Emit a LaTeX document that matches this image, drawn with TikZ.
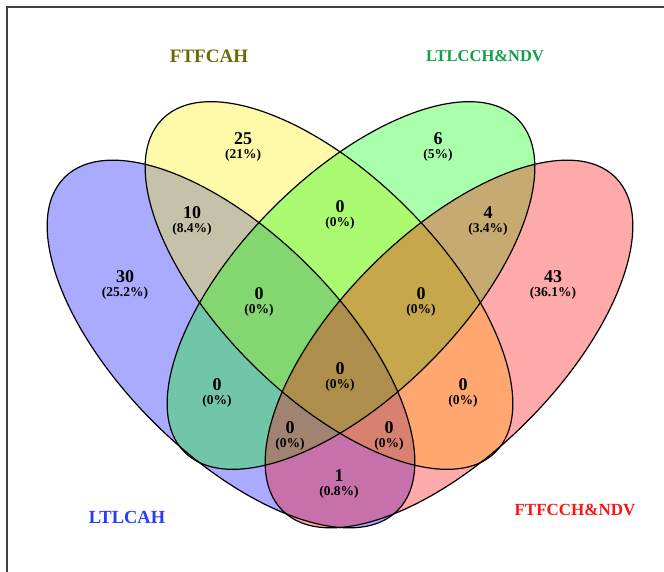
\documentclass[tikz,border=0pt]{standalone}
\usepackage{fontspec}
\setmainfont{Liberation Serif}
\definecolor{catY}{RGB}{108,106,8}
\definecolor{catG}{RGB}{16,160,70}
\definecolor{catB}{RGB}{40,60,255}
\definecolor{catR}{RGB}{250,20,20}
\newcommand{\numfont}{\fontsize{18}{18}\selectfont\bfseries}
\newcommand{\pctfont}{\fontsize{13.5}{13.5}\selectfont\bfseries}
\newcommand{\region}[5]{%
  \node[num] (#1-n) at (#2,#3) {#4};
  \node[pct] (#1-p) at (#2,#3+16) {(#5\%)};}

\begin{document}
\begin{tikzpicture}[x=1pt, y=-1pt]
  \tikzset{
    num/.style={inner sep=0pt, font=\numfont},
    pct/.style={inner sep=0pt, font=\pctfont},
    cat/.style={inner sep=0pt, font=\bfseries},
    setB/.style={rotate around={-45:(cB)}},
    setY/.style={rotate around={-45:(cY)}},
    setG/.style={rotate around={45:(cG)}},
    setR/.style={rotate around={45:(cR)}},
    tint/.style={fill opacity=0.333},
    rim/.style={line width=1.2pt}
  }
  \clip (0,0) rectangle (664,571);
  \fill[white] (0,0) rectangle (664,571);
  \draw[black!75, line width=1.5pt] (7,7) rectangle (700,600);
  \coordinate (cB) at (231,344);
  \coordinate (cY) at (329,285.5);
  \coordinate (cG) at (351,285.5);
  \coordinate (cR) at (449,344);
  % fills
  \fill[blue, tint, setB] (cB) ellipse [x radius=235.5pt, y radius=110pt];
  \fill[yellow, tint, setY] (cY) ellipse [x radius=235.5pt, y radius=110pt];
  \fill[green, tint, setG] (cG) ellipse [x radius=235.5pt, y radius=110pt];
  \fill[red, tint, setR] (cR) ellipse [x radius=235.5pt, y radius=110pt];
  % outlines
  \draw[rim, setB] (cB) ellipse [x radius=235.5pt, y radius=110pt];
  \draw[rim, setY] (cY) ellipse [x radius=235.5pt, y radius=110pt];
  \draw[rim, setG] (cG) ellipse [x radius=235.5pt, y radius=110pt];
  \draw[rim, setR] (cR) ellipse [x radius=235.5pt, y radius=110pt];
  % counts
  \region{B}{125}{277}{30}{25.2}
  \region{Y}{243}{139}{25}{21}
  \region{G}{438}{139}{6}{5}
  \region{R}{553}{277}{43}{36.1}
  \region{BY}{192}{213}{10}{8.4}
  \region{YG}{340}{207}{0}{0}
  \region{GR}{488}{213}{4}{3.4}
  \region{BYG}{259}{294}{0}{0}
  \region{YGR}{421}{294}{0}{0}
  \region{BG}{217}{385}{0}{0}
  \region{BYGR}{340}{369}{0}{0}
  \region{YR}{463}{385}{0}{0}
  \region{BGR}{290}{428}{0}{0}
  \region{BYR}{389}{428}{0}{0}
  \region{BR}{339}{476}{1}{0.8}
  % set names
  \node[cat, catY, font=\fontsize{19}{19}\selectfont\bfseries] (t-Y) at (209,56) {FTFCAH};
  \node[cat, catG, font=\fontsize{16.5}{16.5}\selectfont\bfseries] (t-G) at (485,56) {LTLCCH\&NDV};
  \node[cat, catB, font=\fontsize{18.5}{18.5}\selectfont\bfseries] (t-B) at (127,517) {LTLCAH};
  \node[cat, catR, font=\fontsize{17}{17}\selectfont\bfseries] (t-R) at (575,510) {FTFCCH\&NDV};
\end{tikzpicture}
\end{document}
